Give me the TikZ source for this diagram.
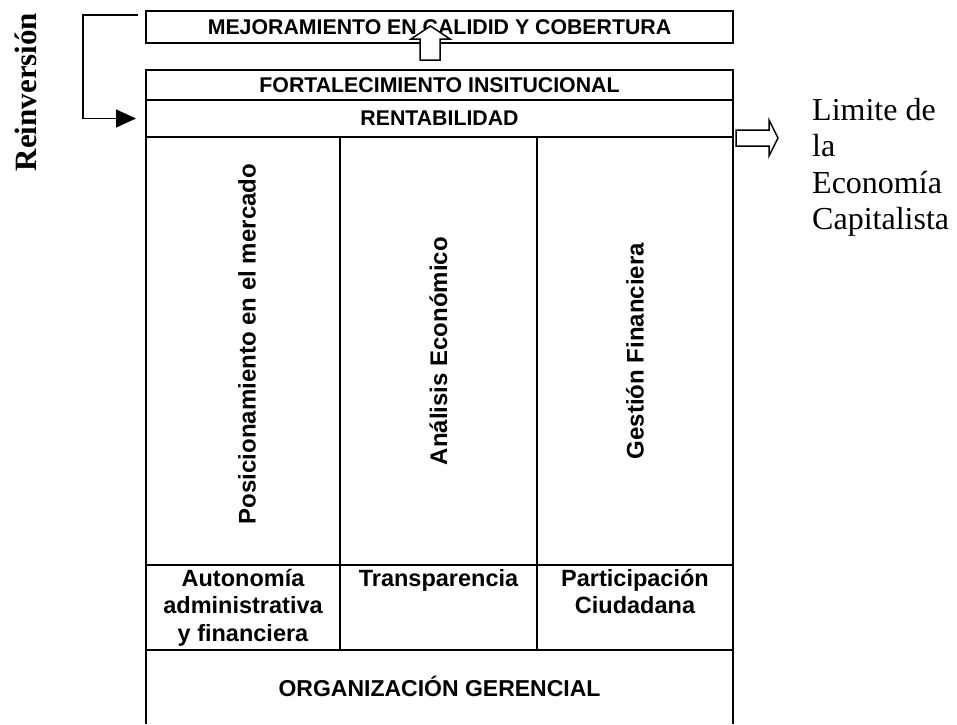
\documentclass[tikz,border=0pt]{standalone}
\usepackage{fontspec}
\setmainfont{Liberation Serif}
\newfontfamily\arialfont{Liberation Sans}
\usepackage{tikz}
\usetikzlibrary{positioning,arrows.meta}

\tikzset{
  cell/.style={draw, line width=2pt, inner sep=0pt,
    font=\arialfont\bfseries\fontsize{21.3}{26}\selectfont},
  vtext/.style={rotate=90, inner sep=0pt,
    font=\arialfont\bfseries\fontsize{24}{28}\selectfont},
  btext/.style={inner sep=0pt, align=center,
    font=\arialfont\bfseries\fontsize{23.5}{27.5}\selectfont},
  bloque/.style={draw, line width=1.5pt, fill=white, line join=miter},
  lazo/.style={draw, line width=1.3pt, -{Triangle[length=20pt,width=18pt]}}
}

\begin{document}
\begin{tikzpicture}[x=1pt, y=-1pt]
\useasboundingbox (0,0) rectangle (957,724);

% caja de arriba
\node[cell, minimum width=587pt, minimum height=32pt] (mejora) at (439.5,27)
  {MEJORAMIENTO EN CALIDID Y COBERTURA};

% filas de arriba del marco
\node[cell, minimum width=587pt, minimum height=30pt] (fortal) at (439.5,85)
  {FORTALECIMIENTO INSITUCIONAL};
\node[cell, minimum width=587pt, minimum height=37pt] (rentab) at (439.5,118.5)
  {RENTABILIDAD};

% tres columnas
\node[cell, minimum width=194pt, minimum height=428pt] (col1) at (243,351) {};
\node[cell, minimum width=197pt, minimum height=428pt] (col2) at (438.5,351) {};
\node[cell, minimum width=196pt, minimum height=428pt] (col3) at (635,351) {};
\node[vtext] (posic) at ([xshift=4pt,yshift=7pt]col1) {Posicionamiento en el mercado};
\node[vtext] (analis) at (col2) {Análisis Económico};
\node[vtext] (gestion) at (col3) {Gestión Financiera};

% fila de abajo
\node[cell, minimum width=194pt, minimum height=85pt] (bot1) at (243,607.5) {};
\node[cell, minimum width=197pt, minimum height=85pt] (bot2) at (438.5,607.5) {};
\node[cell, minimum width=196pt, minimum height=85pt] (bot3) at (635,607.5) {};
\node[btext, below=5pt of bot1.north] (auton) {Autonomía\\administrativa\\y financiera};
\node[btext, below=5pt of bot2.north] (transp) {Transparencia};
\node[btext, below=5pt of bot3.north] (partic) {Participación\\Ciudadana};

% base abierta abajo
\draw[line width=2pt] (146,724) -- (146,650) -- (733,650) -- (733,724);
\node[btext, font=\arialfont\bfseries\fontsize{23}{27}\selectfont]
  (organiz) at (439.5,686) {ORGANIZACIÓN GERENCIAL};

% flecha gruesa hacia arriba
\draw[bloque] (420,60) -- (420,39) -- (411,39) -- (430.5,26) -- (450,39)
  -- (440,39) -- (440,60) -- cycle;

% flecha gruesa a la derecha
\coordinate (salida) at (736,138);
\draw[bloque] (salida) ++(0,-8) -- ++(33,0) -- ++(0,-10) -- ++(9,18)
  -- ++(-9,18) -- ++(0,-10) -- ++(-33,0) -- cycle;

\node[inner sep=0pt, anchor=north west, align=left,
  font=\fontsize{32}{36.5}\selectfont] (limite) at (812,98)
  {Limite de\\la\\Economía\\Capitalista};

% reinversion
\coordinate (reinv) at (138,15);
\draw[lazo] (reinv) -- ++(-55,0) |- ([xshift=-9pt]rentab.west);
\node[rotate=90, inner sep=0pt, font=\bfseries\fontsize{31}{36}\selectfont]
  (reinvtxt) at (26,92) {Reinversión};

\end{tikzpicture}
\end{document}
